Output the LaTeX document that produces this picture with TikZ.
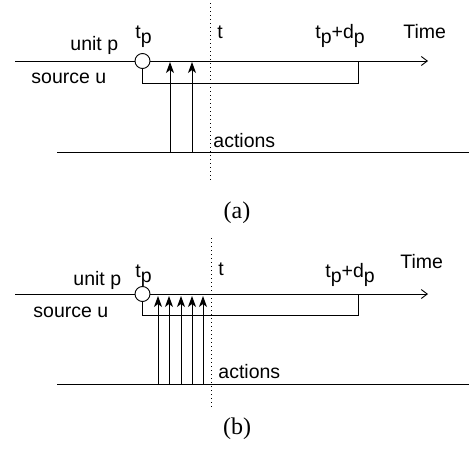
\documentclass[tikz,border=0pt]{standalone}
\usepackage{fontspec}
\setmainfont{Liberation Serif}
\setsansfont{Liberation Sans}
\usetikzlibrary{arrows.meta}

\newcommand{\lowsub}[1]{\raisebox{-5pt}{#1}}

\begin{document}
\begin{tikzpicture}[
    x=1pt, y=-1pt,
    line width=0.9pt,
    label_text/.style = {
        anchor=base west,
        inner sep=0pt,
        font=\sffamily\fontsize{19.5}{21}\selectfont
    },
    caption_text/.style = {
        anchor=base,
        inner sep=0pt,
        font=\rmfamily\fontsize{24}{26}\selectfont
    },
    start_dot/.style = {
        circle,
        draw,
        fill=white,
        minimum size=15pt,
        inner sep=0pt
    },
    time_axis/.style = {
        -{Straight Barb[length=6pt,width=9pt]}
    },
    action_arrow/.style = {
        -{Stealth[length=11pt,width=8pt,inset=3pt]}
    },
    now_line/.style = {
        dash pattern=on 1pt off 3pt
    }
]
    \useasboundingbox (0,0) rectangle (469,450);

    % Panel (a)
    \node [start_dot] (tp_a) at (142.5,61) {};
    \coordinate (axis_a_start) at (15,61);
    \coordinate (axis_a_end) at (428,61);
    \coordinate (deadline_a) at (358,61);
    \coordinate (corner_a) at (358,83);
    \coordinate (base_a_start) at (57,152);
    \coordinate (base_a_end) at (469,152);
    \coordinate (now_a_top) at (210,3);
    \coordinate (now_a_bot) at (210,183);

    \node [label_text] (unit_a) at (70,50) {unit p};
    \node [label_text] (tp_lbl_a) at (135,38) {t\lowsub{p}};
    \node [label_text] (t_lbl_a) at (217,38) {t};
    \node [label_text] (dl_lbl_a) at (315,38) {t\lowsub{p}+d\lowsub{p}};
    \node [label_text] (time_a) at (403,38) {Time};
    \node [label_text] (src_a) at (31,83) {source u};
    \node [label_text] (act_a) at (213,147) {actions};
    \node [caption_text] (cap_a) at (237,218) {(a)};

    \draw (axis_a_start) -- (tp_a.west);
    \draw [time_axis] (tp_a.east) -- (axis_a_end);
    \draw (tp_a.south) |- (corner_a) -- (deadline_a);
    \draw (base_a_start) -- (base_a_end);
    \draw [now_line] (now_a_top) -- (now_a_bot);
    \foreach \x [count=\i] in {170,192} {
        \coordinate (foot_a\i) at (\x,152);
        \coordinate (head_a\i) at (\x,62);
        \draw [action_arrow] (foot_a\i) -- (head_a\i);
    }

    % Panel (b)
    \node [start_dot] (tp_b) at (142.5,294) {};
    \coordinate (axis_b_start) at (15,294);
    \coordinate (axis_b_end) at (428,294);
    \coordinate (deadline_b) at (358,294);
    \coordinate (corner_b) at (358,315);
    \coordinate (base_b_start) at (57,384);
    \coordinate (base_b_end) at (469,384);
    \coordinate (now_b_top) at (211,238);
    \coordinate (now_b_bot) at (211,408);

    \node [label_text] (unit_b) at (73,285) {unit p};
    \node [label_text] (tp_lbl_b) at (135,277) {t\lowsub{p}};
    \node [label_text] (t_lbl_b) at (218,275) {t};
    \node [label_text] (dl_lbl_b) at (325,277) {t\lowsub{p}+d\lowsub{p}};
    \node [label_text] (time_b) at (400,268) {Time};
    \node [label_text] (src_b) at (33,317) {source u};
    \node [label_text] (act_b) at (218,378) {actions};
    \node [caption_text] (cap_b) at (237,434) {(b)};

    \draw (axis_b_start) -- (tp_b.west);
    \draw [time_axis] (tp_b.east) -- (axis_b_end);
    \draw (tp_b.south) |- (corner_b) -- (deadline_b);
    \draw (base_b_start) -- (base_b_end);
    \draw [now_line] (now_b_top) -- (now_b_bot);
    \foreach \x [count=\i] in {158,169,181,192,203} {
        \coordinate (foot_b\i) at (\x,384);
        \coordinate (head_b\i) at (\x,296);
        \draw [action_arrow] (foot_b\i) -- (head_b\i);
    }

\end{tikzpicture}
\end{document}
